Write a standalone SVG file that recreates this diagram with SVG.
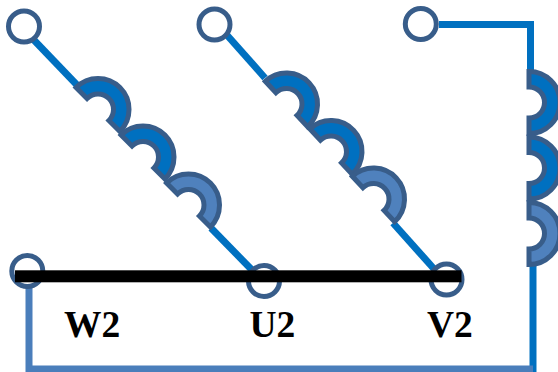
<svg xmlns="http://www.w3.org/2000/svg" width="558" height="372" viewBox="0 0 558 372">
<style>
.wire{fill:none;stroke:#0070C0;stroke-width:7}
.wire2{fill:none;stroke:#4A7EBB;stroke-width:7}
.term{fill:#fff;stroke:#385D8A;stroke-width:5}
.arc{stroke:#385D8A;stroke-width:5;stroke-linejoin:miter}
.a1{fill:#0070C0}
.a2{fill:#4F81BD}
.lbl{font-family:"Liberation Serif","Times New Roman",serif;font-weight:bold;font-size:37.500px;fill:#000}
</style>
<defs>
<path id="h" d="M-31 0A31 31 0 0 1 31 0L15.500 0A15.500 15.500 0 0 0-15.500 0Z"/>
</defs>
<rect width="558" height="372" fill="#fff"/>
<g id="connectors">
<path class="wire" d="M31 37L77 85"/>
<path class="wire" d="M211 228L252 270"/>
<path class="wire" d="M226 34L265 78"/>
<path class="wire" d="M393 223L435 270"/>
<path class="wire" d="M439 24.500H530.500V72"/>
<path class="wire" d="M533 264V372"/>
<path class="wire2" d="M29 285V369H533"/>
</g>
<g id="coil-w">
<use href="#h" class="arc a1" transform="translate(98 109.500) rotate(45)"/>
<use href="#h" class="arc a1" transform="translate(143 157) rotate(45)"/>
<use href="#h" class="arc a2" transform="translate(188.500 205) rotate(45)"/>
</g>
<g id="coil-u">
<use href="#h" class="arc a1" transform="translate(286.500 104) rotate(47)"/>
<use href="#h" class="arc a1" transform="translate(331 151.500) rotate(47)"/>
<use href="#h" class="arc a2" transform="translate(373.500 199) rotate(47)"/>
</g>
<g id="coil-v">
<use href="#h" class="arc a1" transform="translate(529 102.500) rotate(90)"/>
<use href="#h" class="arc a1" transform="translate(529 168) rotate(90)"/>
<use href="#h" class="arc a2" transform="translate(529 233.500) rotate(90)"/>
</g>
<g id="t1"><circle class="term" cx="24" cy="26.500" r="15.500"/></g>
<g id="t2"><circle class="term" cx="214.500" cy="24.500" r="15.500"/></g>
<g id="t3"><circle class="term" cx="420.800" cy="24" r="15.500"/></g>
<g id="w2"><circle class="term" cx="27.300" cy="271" r="15.500"/></g>
<g id="u2"><circle class="term" cx="264" cy="281" r="15.500"/></g>
<g id="v2"><circle class="term" cx="446.500" cy="279.500" r="15.500"/></g>
<rect id="bar" x="15" y="270.300" width="446.500" height="12" fill="#000"/>
<text class="lbl" x="64" y="337">W2</text>
<text class="lbl" x="249.500" y="337">U2</text>
<text class="lbl" x="427" y="337">V2</text>
</svg>
